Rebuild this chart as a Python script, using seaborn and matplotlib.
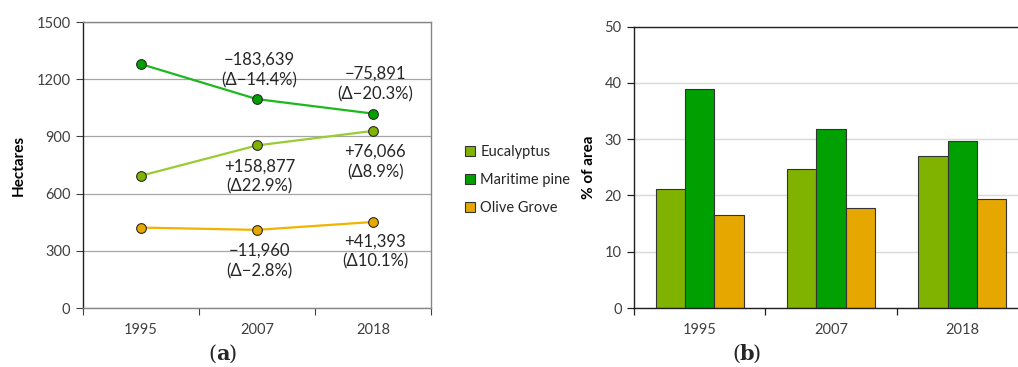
import matplotlib
matplotlib.use("Agg")
import matplotlib.pyplot as plt
import seaborn as sns
import pandas as pd
import numpy as np
from matplotlib.patches import Patch

years = ["1995", "2007", "2018"]
species = ["Eucalyptus", "Maritime pine", "Olive Grove"]

# Area (hectares) per land cover class
eucalyptus_ha = [693.8, 852.7, 928.8]
pine_ha = [1279.1, 1095.5, 1019.6]
olive_ha = [421.8, 409.8, 451.2]

# Share of total area (%)
eucalyptus_pct = [21.1, 24.7, 27.0]
pine_pct = [39.0, 31.9, 29.6]
olive_pct = [16.5, 17.8, 19.3]

# Change annotations: (year index, y position, text)
change_labels = [
    (1, 1248, "\u2212183,639\n(\u0394\u221214.4%)"),
    (2, 1175, "\u221275,891\n(\u0394\u221220.3%)"),
    (1, 690, "+158,877\n(\u039422.9%)"),
    (2, 766, "+76,066\n(\u03948.9%)"),
    (1, 246, "\u221211,960\n(\u0394\u22122.8%)"),
    (2, 296, "+41,393\n(\u039410.1%)"),
]

bar_colors = {"Eucalyptus": "#80B300", "Maritime pine": "#00A000", "Olive Grove": "#E5A700"}
line_colors = {"Eucalyptus": "#99CC33", "Maritime pine": "#1DB81D", "Olive Grove": "#F2B200"}

sns.set_theme(style="white")
plt.rcParams["font.family"] = ["Lato", "DejaVu Sans"]

ha_df = pd.DataFrame({
    "pos": list(range(3)) * 3,
    "year": years * 3,
    "species": np.repeat(species, 3),
    "value": eucalyptus_ha + pine_ha + olive_ha,
})
pct_df = pd.DataFrame({
    "year": years * 3,
    "species": np.repeat(species, 3),
    "value": eucalyptus_pct + pine_pct + olive_pct,
})

W, H = 1018, 367
fig = plt.figure(figsize=(W / 100, H / 100), dpi=100)

def box(x0, y0, x1, y1):
    return [x0 / W, 1 - y1 / H, (x1 - x0) / W, (y1 - y0) / H]

tick_color = "#404040"

# ---- (a) hectares line chart ----
ax1 = fig.add_axes(box(83, 22, 431, 308))
sns.lineplot(data=ha_df, x="pos", y="value", hue="species", palette=line_colors,
             hue_order=species, ax=ax1, linewidth=1.6, legend=False,
             marker="o", markersize=7, markeredgecolor="#2a2a2a", markeredgewidth=0.8)
for line, sp in zip(ax1.get_lines(), species):
    line.set_markerfacecolor(bar_colors[sp])
ax1.set_xlim(-0.5, 2.5)
ax1.set_ylim(0, 1500)
ax1.set_yticks(np.arange(0, 1501, 300))
ax1.set_xticks([-0.5, 0.5, 1.5, 2.5])
ax1.set_xticklabels([])
ax1.set_xticks([0, 1, 2], minor=True)
ax1.set_xticklabels(years, minor=True)
ax1.tick_params(axis="x", which="major", length=5, width=0.8, color="#404040", direction="out", bottom=True)
ax1.tick_params(axis="x", which="minor", length=0, pad=11, labelsize=10.5, labelcolor=tick_color)
ax1.tick_params(axis="y", length=5, width=0.8, color="#404040", direction="out", left=True,
                labelsize=10.5, labelcolor=tick_color, pad=4)
ax1.grid(axis="y", color="#a6a6a6", linewidth=0.9)
ax1.set_axisbelow(True)
ax1.set_xlabel("")
ax1.set_ylabel("Hectares", fontsize=11, fontweight="bold", color="#000000", labelpad=8)
for side in ["top", "right", "bottom"]:
    ax1.spines[side].set_color("#868686")
ax1.spines["left"].set_color("#202020")
for s in ax1.spines.values():
    s.set_linewidth(1.0)
for xi, yv, txt in change_labels:
    ax1.text(xi + 0.02, yv, txt, ha="center", va="center", fontsize=12,
             color="#262626", linespacing=1.3)

# ---- (b) share of area bar chart ----
ax2 = fig.add_axes(box(634, 26.7, 1028, 308))
sns.barplot(data=pct_df, x="year", y="value", hue="species", hue_order=species,
            palette=bar_colors, ax=ax2, width=0.67, edgecolor="#333333",
            linewidth=0.8, saturation=1)
ax2.get_legend().remove()
ax2.set_xlim(-0.5, 2.5)
ax2.set_ylim(0, 50)
ax2.set_yticks(np.arange(0, 51, 10))
ax2.set_xticks([-0.5, 0.5, 1.5, 2.5])
ax2.set_xticklabels([])
ax2.set_xticks([0, 1, 2], minor=True)
ax2.set_xticklabels(years, minor=True)
ax2.tick_params(axis="x", which="major", length=5, width=0.9, color="#202020", direction="out", bottom=True)
ax2.tick_params(axis="x", which="minor", length=0, pad=11, labelsize=10.5, labelcolor=tick_color)
ax2.tick_params(axis="y", length=5, width=0.9, color="#202020", direction="out", left=True,
                labelsize=10.5, labelcolor=tick_color, pad=4)
ax2.grid(axis="y", color="#d9d9d9", linewidth=1.0)
ax2.set_axisbelow(True)
ax2.set_xlabel("")
ax2.set_ylabel("% of area", fontsize=11, fontweight="bold", color="#000000", labelpad=6)
for s in ax2.spines.values():
    s.set_color("#202020")
    s.set_linewidth(1.0)

# Shared legend between the panels
handles = [Patch(facecolor=bar_colors[sp], edgecolor="#333333", linewidth=0.8, label=sp)
           for sp in species]
fig.legend(handles=handles, loc="center left", bbox_to_anchor=(452 / W, 1 - 180 / H),
           frameon=False, fontsize=10.5, handlelength=0.7, handleheight=0.7,
           handletextpad=0.35, labelspacing=0.95, labelcolor="#262626")

# Panel letters
def panel_letter(xc, letter):
    y = 1 - 354 / H
    fig.text(xc / W, y, "(", fontsize=15, family="DejaVu Serif", ha="right", va="center")
    fig.text(xc / W, y, letter, fontsize=15, family="DejaVu Serif", fontweight="bold", ha="left", va="center")
    fig.text((xc + 13) / W, y, ")", fontsize=15, family="DejaVu Serif", ha="left", va="center")

panel_letter(216, "a")
panel_letter(740, "b")

fig.savefig("out.png", dpi=100, facecolor="white")
